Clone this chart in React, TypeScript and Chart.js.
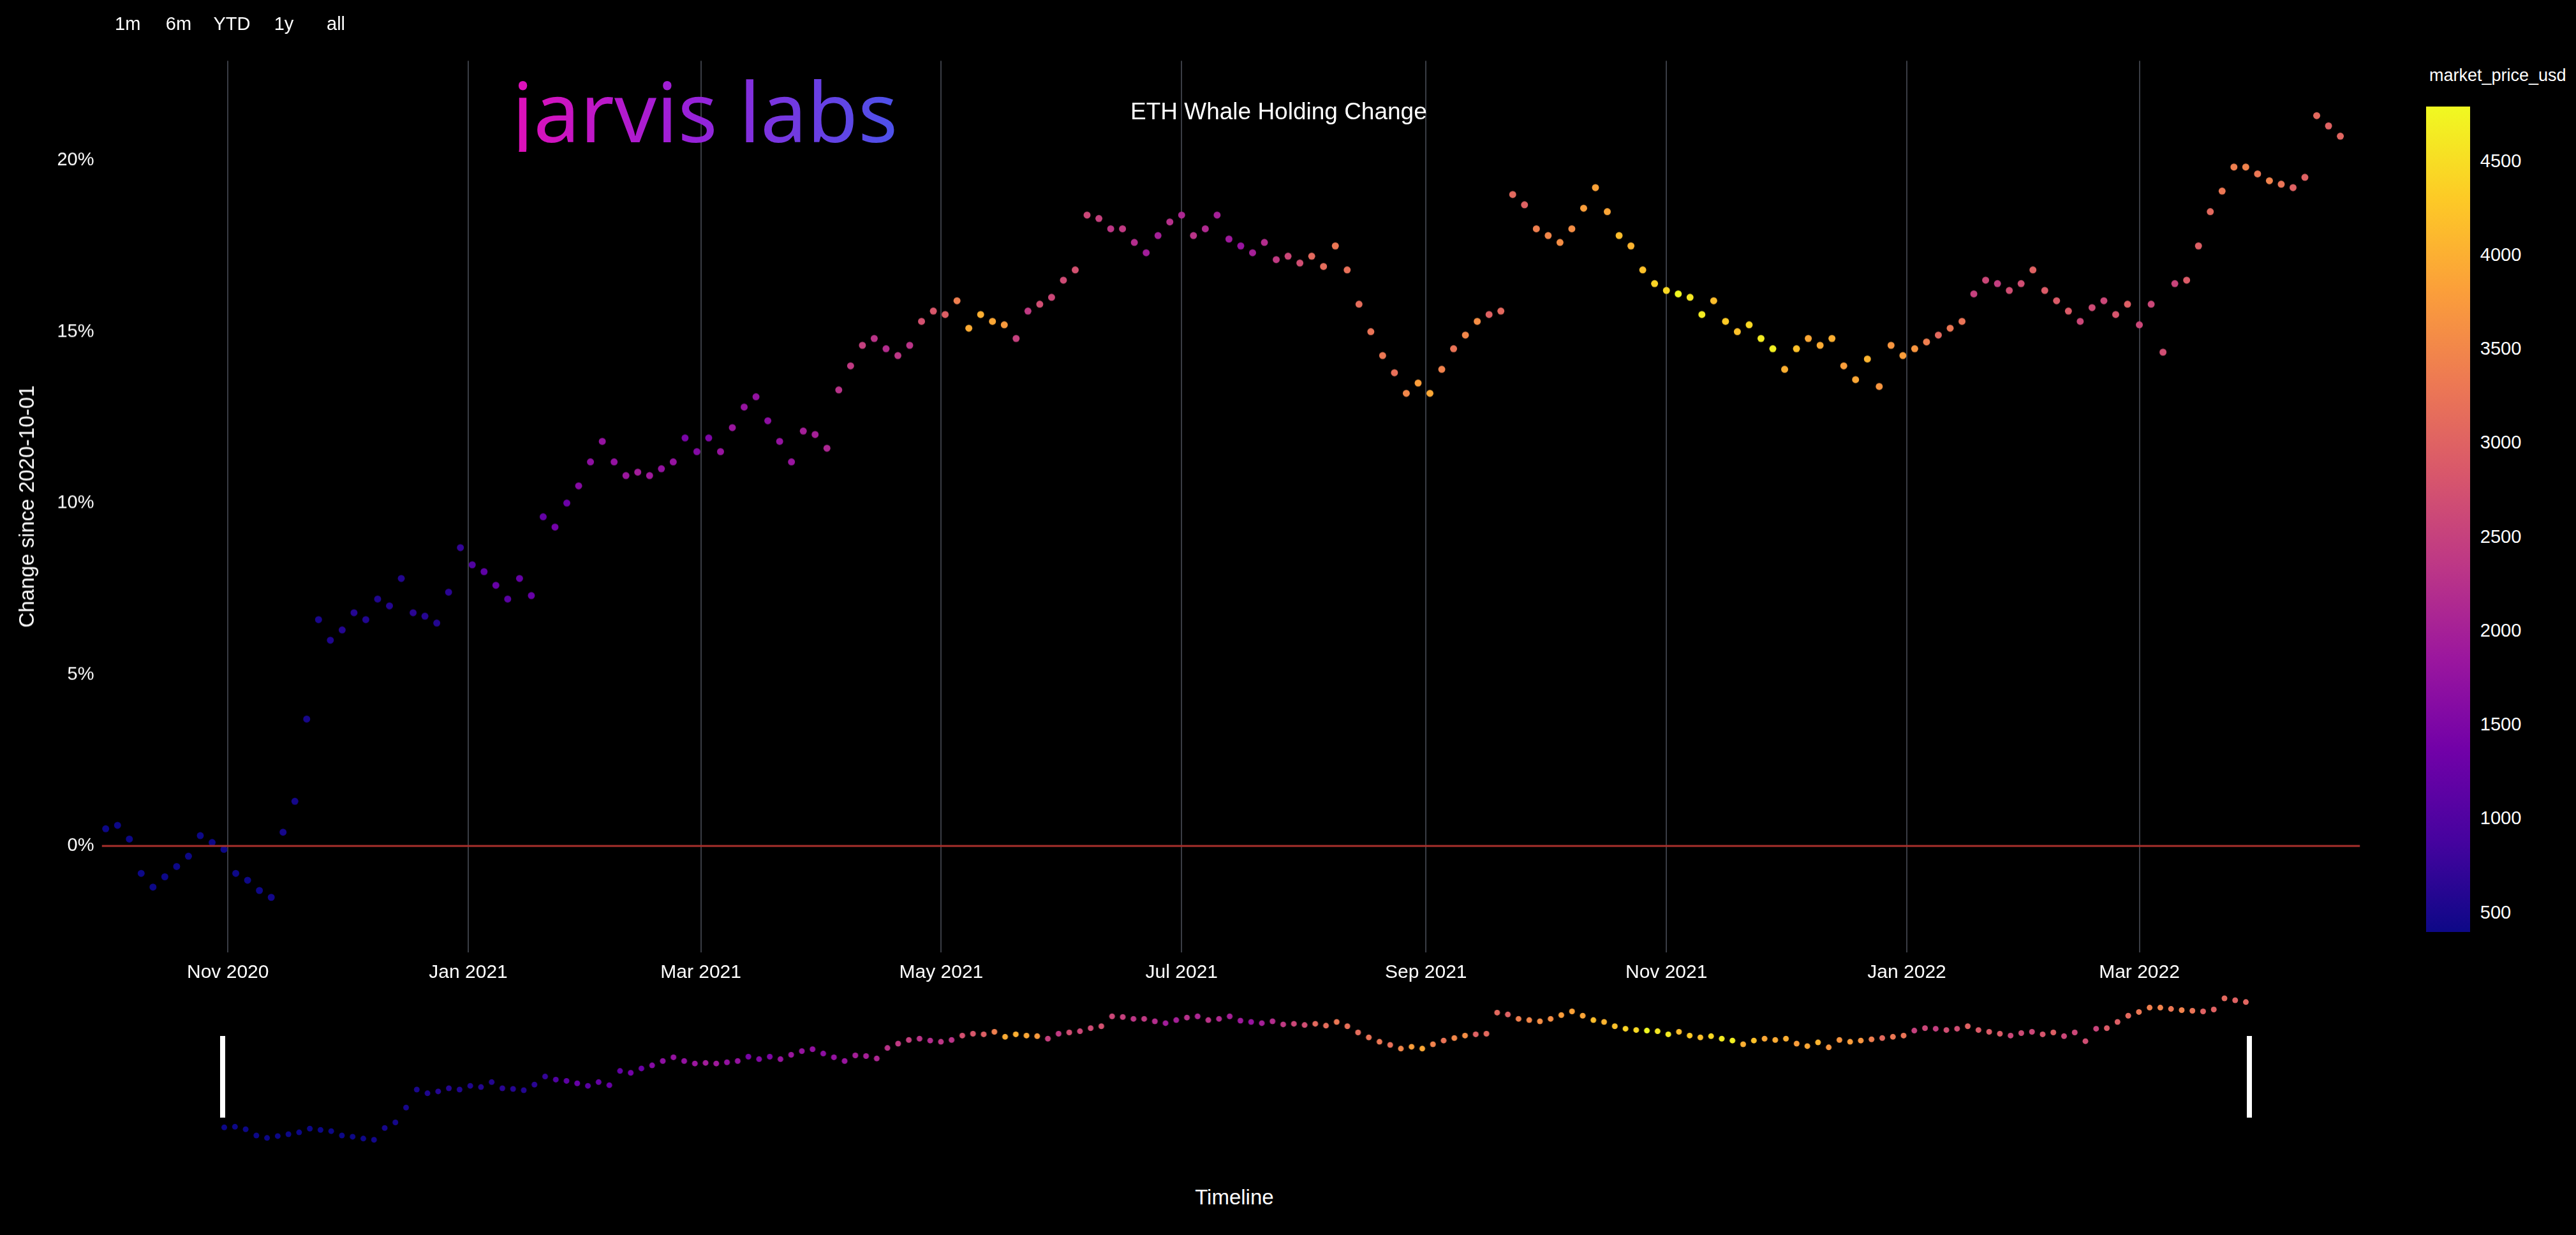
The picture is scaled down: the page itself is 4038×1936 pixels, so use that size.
import React, { useEffect, useRef } from "react";
import { Chart, registerables } from "chart.js";
Chart.register(...registerables);

const S = 2.573;
const FONT = "'Liberation Sans', Arial, sans-serif";

// day index since 2020-10-01, 3-day steps
const changePct = [
  0.5, 0.6, 0.2, -0.8, -1.2, -0.9, -0.6, -0.3, 0.3, 0.1, -0.1,
  -0.8, -1.0, -1.3, -1.5, 0.4, 1.3, 3.7, 6.6, 6.0, 6.3,
  6.8, 6.6, 7.2, 7.0, 7.8, 6.8, 6.7, 6.5, 7.4, 8.7,
  8.2, 8.0, 7.6, 7.2, 7.8, 7.3, 9.6, 9.3, 10.0, 10.5,
  11.2, 11.8, 11.2, 10.8, 10.9, 10.8, 11.0, 11.2, 11.9,
  11.5, 11.9, 11.5, 12.2, 12.8, 13.1, 12.4, 11.8, 11.2, 12.1,
  12.0, 11.6, 13.3, 14.0, 14.6, 14.8, 14.5, 14.3, 14.6, 15.3, 15.6,
  15.5, 15.9, 15.1, 15.5, 15.3, 15.2, 14.8, 15.6, 15.8, 16.0,
  16.5, 16.8, 18.4, 18.3, 18.0, 18.0, 17.6, 17.3, 17.8, 18.2,
  18.4, 17.8, 18.0, 18.4, 17.7, 17.5, 17.3, 17.6, 17.1, 17.2,
  17.0, 17.2, 16.9, 17.5, 16.8, 15.8, 15.0, 14.3, 13.8, 13.2,
  13.5, 13.2, 13.9, 14.5, 14.9, 15.3, 15.5, 15.6, 19.0, 18.7, 18.0,
  17.8, 17.6, 18.0, 18.6, 19.2, 18.5, 17.8, 17.5, 16.8, 16.4,
  16.2, 16.1, 16.0, 15.5, 15.9, 15.3, 15.0, 15.2, 14.8, 14.5,
  13.9, 14.5, 14.8, 14.6, 14.8, 14.0, 13.6, 14.2, 13.4, 14.6, 14.3,
  14.5, 14.7, 14.9, 15.1, 15.3, 16.1, 16.5, 16.4, 16.2,
  16.4, 16.8, 16.2, 15.9, 15.6, 15.3, 15.7, 15.9, 15.5,
  15.8, 15.2, 15.8, 14.4, 16.4, 16.5, 17.5, 18.5, 19.1, 19.8,
  19.8, 19.6, 19.4, 19.3, 19.2, 19.5, 21.3, 21.0, 20.7,
];

const priceUsd = [
  355, 350, 345, 345, 365, 375, 380, 385, 385, 395, 390,
  385, 400, 415, 450, 470, 460, 480, 510, 550, 590,
  600, 570, 560, 590, 580, 640, 610, 580, 640, 730,
  1000, 1150, 1250, 1100, 1230, 1250, 1220, 1390, 1300, 1600,
  1700, 1780, 1750, 1850, 1950, 1900, 1750, 1780, 1450,
  1570, 1510, 1800, 1840, 1790, 1750, 1680, 1780, 1820, 1980,
  2000, 2100, 2280, 2400, 2480, 2300, 2200, 2350, 2300, 2750, 2830,
  2950, 3400, 3950, 4000, 3900, 3750, 2500, 2400, 2700, 2600,
  2650, 2750, 2600, 2500, 2350, 2400, 2200, 1950, 2000, 2250,
  2100, 2300, 2150, 2000, 1900, 1800, 2000, 2200, 2400, 2600,
  2700, 3100, 3150, 3300, 3200, 3150, 3250, 3300, 3200, 3500,
  3800, 3900, 3450, 3250, 3500, 3600, 3000, 3100, 3100, 3000, 3400,
  3500, 3600, 3600, 3800, 3850, 3880, 4150, 4050, 4200, 4400,
  4450, 4800, 4600, 4650, 4150, 4300, 4200, 4450, 4650, 4700,
  4000, 4200, 3900, 3950, 4000, 3800, 3900, 4050, 3700, 3700, 3800,
  3700, 3400, 3100, 3300, 3250, 2500, 2600, 2450, 2700,
  2700, 3000, 2900, 2900, 2900, 2600, 2650, 2600, 2800,
  2950, 2600, 2600, 2700, 2550, 2900, 2950, 3100, 3300, 3400,
  3450, 3300, 3450, 3250, 3000, 3000, 3100, 3000, 3050,
];

const monthTickDays = [31, 92, 151, 212, 273, 335, 396, 457, 516];
const monthTickLabels = ["Nov 2020", "Jan 2021", "Mar 2021", "May 2021", "Jul 2021", "Sep 2021", "Nov 2021", "Jan 2022", "Mar 2022"];
const yTicks = [0, 5, 10, 15, 20];
const colorbarTicks = [500, 1000, 1500, 2000, 2500, 3000, 3500, 4000, 4500];
const rangeButtons = ["1m", "6m", "YTD", "1y", "all"];
const CMIN = 395, CMAX = 4790;
const PLASMA = ["#0d0887", "#46039f", "#7201a8", "#9c179e", "#bd3786", "#d8576b", "#ed7953", "#fb9f3a", "#fdca26", "#f0f921"];

function hex(h: string) { return [1, 3, 5].map(i => parseInt(h.slice(i, i + 2), 16)); }
function plasma(v: number) {
  let t = (v - CMIN) / (CMAX - CMIN);
  t = Math.max(0, Math.min(1, t));
  const p = t * (PLASMA.length - 1);
  const i = Math.min(PLASMA.length - 2, Math.floor(p));
  const f = p - i;
  const a = hex(PLASMA[i]), b = hex(PLASMA[i + 1]);
  const c = a.map((x, k) => Math.round(x + (b[k] - x) * f));
  return `rgb(${c[0]},${c[1]},${c[2]})`;
}

const points = changePct.map((y, i) => ({ x: i * 3, y }));
const colors = priceUsd.map(plasma);

export default function App() {
  const mainRef = useRef<HTMLCanvasElement>(null);
  const miniRef = useRef<HTMLCanvasElement>(null);
  useEffect(() => {
    const main = new Chart(mainRef.current!, {
      type: "scatter",
      data: {
        datasets: [
          { type: "line", data: [{ x: -1, y: 0 }, { x: 572, y: 0 }], borderColor: "#a8302c", borderWidth: 3, pointRadius: 0 } as any,
          { data: points, pointRadius: 5.5, pointBorderWidth: 0, backgroundColor: colors, pointBackgroundColor: colors } as any,
        ],
      },
      options: {
        animation: false, responsive: false, maintainAspectRatio: false,
        layout: { padding: { top: 37 * S, right: 0, left: 0, bottom: 0 } },
        plugins: { legend: { display: false }, tooltip: { enabled: false } },
        scales: {
          x: {
            type: "linear", min: -1, max: 572,
            afterBuildTicks: (s: any) => { s.ticks = monthTickDays.map(v => ({ value: v })); },
            afterFit: (s: any) => { s.height = 25 * S; },
            ticks: { color: "#fff", font: { family: FONT, size: 30 }, padding: 14, maxRotation: 0, autoSkip: false,
              callback: (v: any) => monthTickLabels[monthTickDays.indexOf(v)] ?? "" },
            grid: { color: "#3a3d45", lineWidth: 2, drawTicks: false },
            border: { display: false },
          },
          y: {
            min: -3.1, max: 22.9,
            afterBuildTicks: (s: any) => { s.ticks = yTicks.map(v => ({ value: v })); },
            afterFit: (s: any) => { s.width = 62 * S; },
            ticks: { color: "#fff", font: { family: FONT, size: 29 }, padding: 4, callback: (v: any) => v + "%" },
            grid: { display: false },
            border: { display: false },
            title: { display: true, text: "Change since 2020-10-01", color: "#fff", font: { family: FONT, size: 33 }, padding: { top: 24, bottom: 0 } },
          },
        },
      },
    });
    const mini = new Chart(miniRef.current!, {
      type: "scatter",
      data: { datasets: [{ data: points, pointRadius: 4.5, pointBorderWidth: 0, backgroundColor: colors, pointBackgroundColor: colors, clip: false } as any] },
      options: {
        animation: false, responsive: false, maintainAspectRatio: false,
        layout: { padding: 0 },
        plugins: { legend: { display: false }, tooltip: { enabled: false } },
        scales: {
          x: { display: false, type: "linear", min: 0, max: 567 },
          y: { display: false, min: -2.5, max: 23 },
        },
      },
    });
    return () => { main.destroy(); mini.destroy(); };
  }, []);

  const abs = (x: number, y: number): React.CSSProperties => ({ position: "absolute", left: x * S, top: y * S });
  const txt: React.CSSProperties = { color: "#fff", fontFamily: FONT, whiteSpace: "nowrap" };
  const cbTop = 65, cbBot = 568;
  const cbY = (v: number) => cbBot - (v - CMIN) / (CMAX - CMIN) * (cbBot - cbTop);

  return (
    <div style={{ position: "fixed", left: 0, top: 0, width: 4038, height: 1936, background: "#000", overflow: "hidden" }}>
      <canvas ref={mainRef} width={1440 * S} height={605 * S} style={{ position: "absolute", left: 0, top: 0, width: 1440 * S, height: 605 * S }} />
      <canvas ref={miniRef} width={1235 * S} height={100 * S} style={{ position: "absolute", left: 135 * S, top: 600 * S, width: 1235 * S, height: 100 * S }} />
      {rangeButtons.map((b, i) => (
        <div key={b} style={{ ...abs([70, 101, 130, 167, 199][i], 8), ...txt, fontSize: 29 }}>{b}</div>
      ))}
      <div style={{ ...abs(312, 42), fontFamily: "'Noto Sans', sans-serif", fontSize: 130, lineHeight: 1, letterSpacing: 0,
        background: "linear-gradient(90deg, #e010b8 0%, #9a20d8 45%, #4c52ea 100%)", WebkitBackgroundClip: "text", backgroundClip: "text", color: "transparent" }}>jarvis labs</div>
      <div style={{ ...abs(779, 60), ...txt, fontSize: 37, transform: "translateX(-50%)" }}>ETH Whale Holding Change</div>
      <div style={{ ...abs(1480, 40), ...txt, fontSize: 27 }}>market_price_usd</div>
      <div style={{ position: "absolute", left: 1478 * S, top: cbTop * S, width: 27 * S, height: (cbBot - cbTop) * S,
        background: `linear-gradient(0deg, ${PLASMA.join(",")})` }} />
      {colorbarTicks.map(v => (
        <div key={v} style={{ position: "absolute", left: 1511 * S, top: cbY(v) * S - 17, ...txt, fontSize: 29 }}>{v}</div>
      ))}
      <div style={{ position: "absolute", left: 134 * S, top: 631 * S, width: 8, height: 50 * S, background: "#fff" }} />
      <div style={{ position: "absolute", left: 1369 * S, top: 631 * S, width: 8, height: 50 * S, background: "#fff" }} />
      <div style={{ ...abs(752, 722), ...txt, fontSize: 33, transform: "translateX(-50%)" }}>Timeline</div>
    </div>
  );
}
